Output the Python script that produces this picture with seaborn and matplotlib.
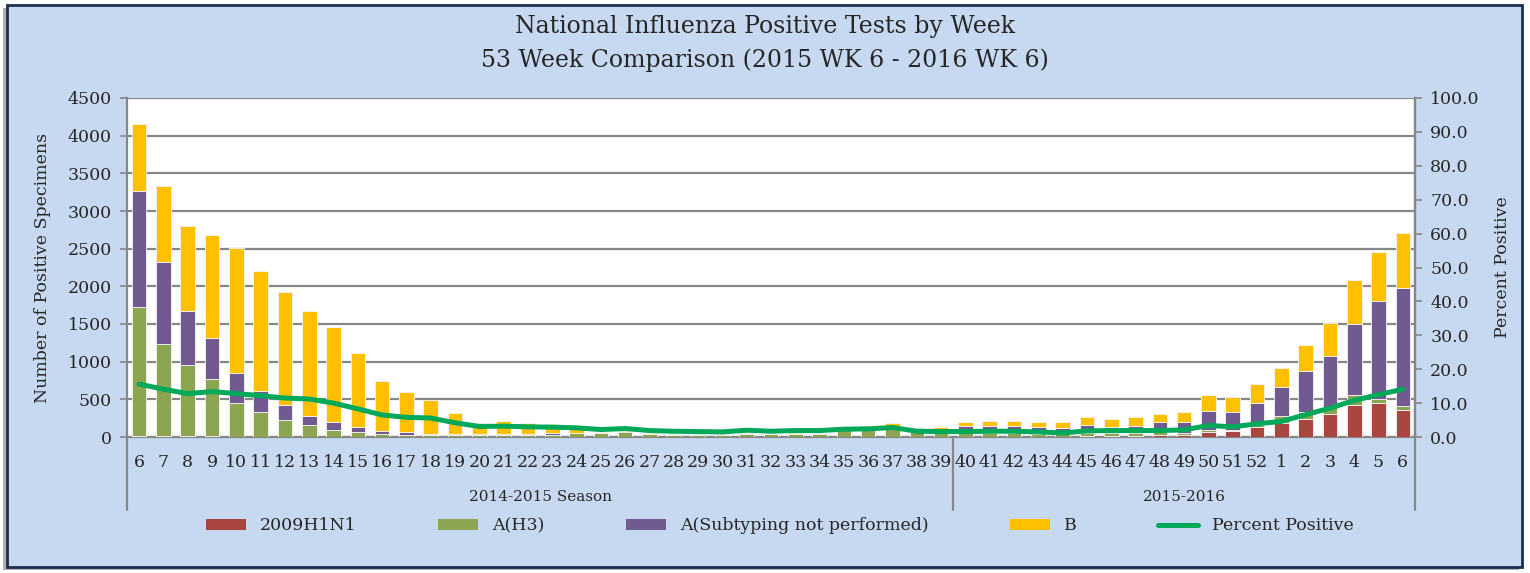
import matplotlib
matplotlib.use("Agg")
import matplotlib.pyplot as plt
import seaborn as sns
import pandas as pd
import numpy as np
from matplotlib.patches import Patch, Rectangle
from matplotlib.lines import Line2D

# ---------------- data ----------------
weeks = [str(w) for w in list(range(6, 53)) + list(range(1, 7))]

h1n1 = [10, 8, 8, 7, 6, 5, 5, 4, 4, 3, 3, 3, 2, 2, 2, 2, 2, 2, 2, 1, 1, 1, 1, 1, 1, 1,
        1, 1, 1, 1, 1, 2, 2, 2,
        5, 5, 5, 5, 5, 8, 8, 10, 22, 27, 62, 75, 133, 186, 239, 310, 429, 451, 354]
h3 = [1711, 1227, 948, 767, 450, 327, 225, 160, 89, 68, 41, 28, 22, 20, 20, 25, 25, 28, 45, 50,
      70, 38, 32, 30, 32, 45, 36, 40, 45, 100, 110, 135, 60, 55,
      50, 50, 45, 40, 35, 45, 40, 40, 40, 30, 35, 22, 25, 97, 88, 88, 128, 58, 62]
a_unsub = [1549, 1084, 717, 536, 389, 283, 190, 110, 102, 66, 31, 31, 20, 18, 15, 15, 15, 18, 12,
           8, 8, 5, 4, 4, 4, 5, 4, 5, 5, 5, 6, 12, 10, 15,
           90, 95, 96, 83, 75, 106, 89, 96, 139, 144, 244, 232, 293, 376, 553, 673, 938, 1292, 1558]
b = [885, 1013, 1132, 1367, 1660, 1589, 1500, 1399, 1265, 978, 673, 535, 446, 274, 144, 175, 139,
     124, 87, 12, 14, 5, 3, 3, 3, 4, 4, 4, 4, 22, 24, 32, 52, 65,
     55, 67, 66, 71, 84, 106, 102, 115, 107, 133, 221, 204, 253, 253, 336, 438, 589, 655, 739]
pct_positive = [15.6, 14.1, 12.8, 13.4, 12.8, 12.2, 11.5, 11.2, 10.0, 8.3, 6.5, 5.8, 5.6, 4.2,
                3.1, 3.2, 3.0, 2.9, 2.7, 2.2, 2.5, 1.9, 1.7, 1.6, 1.5, 2.0, 1.7, 1.9, 1.9, 2.3,
                2.4, 2.8, 1.7, 1.6,
                1.6, 1.7, 1.7, 1.5, 1.2, 1.8, 1.9, 1.9, 1.9, 2.1, 3.4, 3.0, 3.9, 4.6, 6.6, 8.5,
                10.8, 12.5, 14.1]
seasons = ["2014-2015 Season", "2015-2016"]
season_sizes = [34, 19]
series_names = ["2009H1N1", "A(H3)", "A(Subtyping not performed)", "B"]
line_name = "Percent Positive"
title_lines = ["National Influenza Positive Tests by Week",
               "53 Week Comparison (2015 WK 6 - 2016 WK 6)"]

# ---------------- style ----------------
colors = {"2009H1N1": "#A8463F", "A(H3)": "#8BA550",
          "A(Subtyping not performed)": "#705A90", "B": "#FFC000"}
line_color = "#00A859"
bg = "#C6D9F0"
grid_c = "#878787"

sns.set_theme(style="white")
plt.rcParams["font.family"] = ["DejaVu Serif"]
FS = 12.5

n = len(weeks)
pos = np.arange(n)
long_rows = []
for name, vals in zip(series_names, [h1n1, h3, a_unsub, b]):
    for i, v in enumerate(vals):
        long_rows.append({"pos": i, "series": name, "count": v})
df = pd.DataFrame(long_rows)
line_df = pd.DataFrame({"pos": pos, "pct": pct_positive})

fig = plt.figure(figsize=(15.3, 5.73), dpi=100)
fig.patch.set_facecolor("white")
W, H = 1530, 573
# shadow + frame
fig.add_artist(Rectangle((3 / W, 3 / H), 1516 / W, 562 / H, transform=fig.transFigure,
                         facecolor="#B0B0B0", edgecolor="none", zorder=-3))
fig.add_artist(Rectangle((7 / W, 6 / H), 1515 / W, 562 / H, transform=fig.transFigure,
                         facecolor=bg, edgecolor="#1B2F4E", linewidth=2.0, zorder=-2))

ax = fig.add_axes([127 / W, 1 - 437 / H, (1415 - 127) / W, (437 - 98) / H])
ax.set_facecolor("white")

sns.histplot(data=df, x="pos", weights="count", hue="series",
             hue_order=series_names[::-1], palette=colors, multiple="stack",
             discrete=True, shrink=0.6, alpha=1, edgecolor="#F4F4F4", linewidth=0.6,
             legend=False, ax=ax, zorder=3)

ax.set_xlim(-0.5, n - 0.5)
ax.set_ylim(0, 4500)
ax.set_yticks(np.arange(0, 4501, 500))
ax.set_yticklabels([str(v) for v in range(0, 4501, 500)], fontsize=FS)
ax.yaxis.grid(True, color=grid_c, linewidth=1.6, zorder=0)
ax.set_axisbelow(True)
ax.set_xticks(pos)
ax.set_xticklabels(weeks, fontsize=FS)
ax.tick_params(axis="x", length=0, pad=12)
ax.tick_params(axis="y", length=5, width=1.2, color=grid_c, direction="out", left=True, pad=6)
ax.set_xlabel("")
ax.set_ylabel("Number of Positive Specimens", fontsize=FS, labelpad=12)
for s in ["left", "bottom", "right"]:
    ax.spines[s].set_color(grid_c)
    ax.spines[s].set_linewidth(1.6)
ax.spines["top"].set_visible(False)

ax2 = ax.twinx()
sns.lineplot(data=line_df, x="pos", y="pct", color=line_color, linewidth=3.6, ax=ax2,
             zorder=5)
ax2.set_ylim(0, 100)
ax2.set_xlim(-0.5, n - 0.5)
ax2.set_yticks(np.arange(0, 101, 10))
ax2.set_yticklabels([f"{v:.1f}" for v in range(0, 101, 10)], fontsize=FS)
ax2.tick_params(axis="y", length=5, width=1.2, color=grid_c, direction="out", right=True, pad=6)
ax2.set_ylabel("Percent Positive", fontsize=FS, labelpad=10)
ax2.set_xlabel("")
for s in ["left", "top", "bottom"]:
    ax2.spines[s].set_visible(False)
ax2.spines["right"].set_color(grid_c)
ax2.spines["right"].set_linewidth(1.6)

# multi-level category axis
trans = ax.get_xaxis_transform()
bounds = np.concatenate([[0], np.cumsum(season_sizes)]) - 0.5
for xb in bounds:
    ax.plot([xb, xb], [0, -0.215], transform=trans, color=grid_c, linewidth=1.6,
            clip_on=False, zorder=1)
for i, name in enumerate(seasons):
    xc = (bounds[i] + bounds[i + 1]) / 2
    ax.text(xc, -0.177, name, transform=trans, ha="center", va="center", fontsize=FS - 1.5)

# titles
fig.text(0.5, 1 - 27 / H, title_lines[0], ha="center", va="center", fontsize=17)
fig.text(0.5, 1 - 60 / H, title_lines[1], ha="center", va="center", fontsize=17)

# legend
handles = [Patch(facecolor=colors[s], edgecolor="none") for s in series_names]
handles.append(Line2D([0], [0], color=line_color, linewidth=3.6))
labels = series_names + [line_name]
fig.legend(handles, labels, loc="center", bbox_to_anchor=(780 / W, 1 - 526 / H), ncol=5,
           frameon=False, fontsize=FS, handlelength=2.3, handleheight=0.6,
           handletextpad=0.8, columnspacing=4.7)

fig.savefig("out.png", dpi=100)
